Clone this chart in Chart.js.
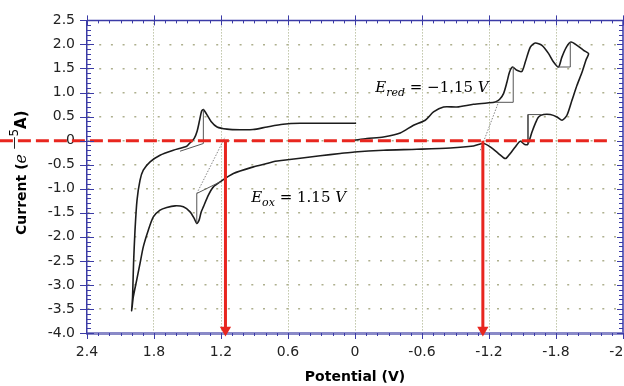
<!DOCTYPE html>
<html>
<head>
<meta charset="utf-8">
<title>Cyclic voltammogram</title>
<script src="https://cdn.jsdelivr.net/npm/chart.js@4.4.1/dist/chart.umd.min.js"></script>
<style>
    html, body { margin: 0; padding: 0; background: #fff; overflow: hidden; }
    #wrap { position: relative; width: 624px; height: 386px; }
</style>
</head>
<body>
<div id="wrap"><canvas id="cvChart"></canvas></div>
<script>
// Axis ticks
const xTicks = [2.4, 1.8, 1.2, 0.6, 0, -0.6, -1.2, -1.8, -2.4];
const xTickLabels = ['2.4', '1.8', '1.2', '0.6', '0', '-0.6', '-1.2', '-1.8', '-2.4'];
const yTicks = [2.5, 2.0, 1.5, 1.0, 0.5, 0, -0.5, -1.0, -1.5, -2.0, -2.5, -3.0, -3.5, -4.0];
const yTickLabels = ['2.5', '2.0', '1.5', '1.0', '0.5', '0', '-0.5', '-1.0', '-1.5', '-2.0', '-2.5', '-3.0', '-3.5', '-4.0'];

// CV scan: 0 V -> +2.0 V -> -2.1 V -> 0 V (potential in V, current in e-5 A)
const scanPotential = [
    -0.01, 0.223, 0.491, 0.644, 0.787, 0.913, 1.029, 1.146, 1.235, 1.289, 1.334, 1.358, 1.374, 1.392,
    1.414, 1.441, 1.477, 1.507, 1.627, 1.746, 1.835, 1.896, 1.925, 1.952, 1.97, 1.983, 1.992, 2.0,
    1.985, 1.955, 1.925, 1.896, 1.851, 1.806, 1.746, 1.686, 1.611, 1.537, 1.477, 1.441, 1.417, 1.396,
    1.378, 1.358, 1.313, 1.268, 1.208, 1.089, 0.91, 0.79, 0.715, 0.641, 0.491, 0.312, 0.133, 0.005,
    -0.255, -0.554, -0.853, -1.061, -1.151, -1.211, -1.285, -1.33, -1.354, -1.39, -1.435, -1.48, -1.516,
    -1.547, -1.585, -1.614, -1.644, -1.689, -1.749, -1.809, -1.854, -1.898, -1.943, -1.988, -2.033,
    -2.071, -2.092,
    -2.047, -1.988, -1.934, -1.892, -1.852, -1.823, -1.778, -1.734, -1.674, -1.614, -1.57, -1.525,
    -1.495, -1.45, -1.411, -1.384, -1.361, -1.33, -1.294, -1.256, -1.182, -1.061, -0.913, -0.793,
    -0.703, -0.629, -0.524, -0.405, -0.255, -0.106, 0.005
];
const scanCurrent = [
    0.36, 0.36, 0.36, 0.34, 0.285, 0.23, 0.226, 0.24, 0.285, 0.40, 0.57, 0.646, 0.61, 0.42,
    0.195, 0.04, -0.044, -0.116, -0.2, -0.303, -0.442, -0.615, -0.822, -1.238, -1.861, -2.546, -3.252, -3.537,
    -3.246, -2.899, -2.552, -2.208, -1.861, -1.585, -1.445, -1.389, -1.356, -1.377, -1.481, -1.612, -1.722, -1.653,
    -1.487, -1.377, -1.134, -0.962, -0.858, -0.683, -0.546, -0.476, -0.428, -0.407, -0.366, -0.314, -0.268, -0.235,
    -0.2, -0.179, -0.152, -0.11, -0.06, -0.131, -0.268, -0.355, -0.366, -0.268, -0.131, -0.012, -0.075,
    -0.075, 0.181, 0.355, 0.492, 0.542, 0.542, 0.492, 0.424, 0.528, 0.839, 1.151, 1.421,
    1.69, 1.809,
    1.877, 1.981, 2.05, 1.94, 1.732, 1.531, 1.634, 1.809, 1.981, 2.029, 1.946, 1.634,
    1.441, 1.462, 1.531, 1.427, 1.219, 0.978, 0.854, 0.804, 0.783, 0.756, 0.7, 0.7,
    0.596, 0.424, 0.32, 0.16, 0.077, 0.044, 0.008
];

// Peak height construction lines
const baselinePotential = [[1.567, 1.358, 1.358], [1.417, 1.417, 1.208], [-1.256, -1.417, -1.417], [-1.812, -1.928, -1.928], [-1.674, -1.549, -1.549]];
const baselineCurrent = [[-0.22, -0.06, 0.646], [-1.722, -1.099, -0.858], [0.797, 0.797, 1.531], [1.531, 1.531, 2.05], [0.542, 0.542, -0.06]];

// Tangents used for the onset potentials
const tangentPotential = [[1.417, 1.163], [-1.122, -1.286]];
const tangentCurrent = [[-1.099, 0.077], [-0.2, 0.804]];

// Onset markers (red arrows) and the zero current line
const onsetPotential = [1.16, -1.145];
const arrowCurrent = [0, -3.94];
const zeroLinePotential = [3.18, -2.295];

document.addEventListener('DOMContentLoaded', function() {
    createCvChart();
});

function labelFor(values, labels, v) {
    const i = values.findIndex(t => Math.abs(t - v) < 1e-6);
    return i >= 0 ? labels[i] : '';
}

function toPoints(xs, ys) {
    return xs.map((x, i) => ({ x: x, y: ys[i] }));
}

function strokeLine(ctx, x1, y1, x2, y2) {
    ctx.beginPath();
    ctx.moveTo(x1, y1);
    ctx.lineTo(x2, y2);
    ctx.stroke();
}

function partsWidth(ctx, parts) {
    return parts.reduce((w, p) => {
        ctx.font = p[1];
        return w + ctx.measureText(p[0]).width;
    }, 0);
}

function drawParts(ctx, parts, x, y) {
    let cx = x;
    parts.forEach(p => {
        ctx.font = p[1];
        ctx.fillText(p[0], cx, y + p[2]);
        cx += ctx.measureText(p[0]).width;
    });
}

const serif = 'DejaVu Serif';
const oxLabel = [['E', 'italic 15px ' + serif, 0], ['ox', 'italic 11px ' + serif, 4], [' = 1.15 ', '15px ' + serif, 0], ['V', 'italic 15px ' + serif, 0]];
const redLabel = [['E', 'italic 15px ' + serif, 0], ['red', 'italic 11px ' + serif, 4], [' = \u22121.15 ', '15px ' + serif, 0], ['V', 'italic 15px ' + serif, 0]];
const yTitle = [
    ['Current (', 'bold 14px DejaVu Sans', 0],
    ['e', 'italic 16px ' + serif, 0],
    [' ', '14px DejaVu Sans', 0],
    ['\u2014', '13px DejaVu Sans', -8],
    ['5', '12px DejaVu Sans', -8],
    ['A)', 'bold 15px DejaVu Sans', 0]
];

const axisDecor = {
    id: 'axisDecor',
    afterDraw(chart) {
        const { ctx, chartArea: a, scales: { x, y } } = chart;
        ctx.save();

        // top and right frame
        ctx.strokeStyle = '#3b3ba6';
        ctx.lineWidth = 1.5;
        strokeLine(ctx, a.left, a.top, a.right, a.top);
        ctx.strokeStyle = '#6a6ac0';
        ctx.lineWidth = 2;
        strokeLine(ctx, a.right, a.top, a.right, a.bottom);

        // major / minor tick marks
        ctx.strokeStyle = '#3b3ba6';
        ctx.lineWidth = 1;
        for (let i = 0; i <= 48; i++) {
            const px = Math.round(x.getPixelForValue(-2.4 + i * 0.1)) + 0.5;
            const major = i % 6 === 0;
            strokeLine(ctx, px, a.bottom, px, a.bottom + (major ? 6 : 3));
            strokeLine(ctx, px, a.top - (major ? 5 : 0), px, a.top + (major ? 5 : 3));
        }
        for (let i = 0; i <= 65; i++) {
            const py = Math.round(y.getPixelForValue(-4 + i * 0.1)) + 0.5;
            const major = i % 5 === 0;
            strokeLine(ctx, a.left - (major ? 7 : 0), py, a.left + (major ? 7 : 4), py);
            strokeLine(ctx, a.right - (major ? 6 : 4), py, a.right, py);
        }

        // annotations
        ctx.fillStyle = '#000';
        ctx.textAlign = 'left';
        ctx.textBaseline = 'alphabetic';
        drawParts(ctx, oxLabel, x.getPixelForValue(0.93), y.getPixelForValue(-1.28));
        drawParts(ctx, redLabel, x.getPixelForValue(-0.181), y.getPixelForValue(1.005));

        // y axis title with superscript
        ctx.translate(26, (a.top + a.bottom) / 2 - 4);
        ctx.rotate(-Math.PI / 2);
        drawParts(ctx, yTitle, -partsWidth(ctx, yTitle) / 2, 0);
        ctx.restore();
    }
};

function createCvChart() {
    const wrap = document.getElementById('wrap');
    const ctx = document.getElementById('cvChart').getContext('2d');
    const red = '#e8261f';

    const datasets = [
        {
            data: toPoints(zeroLinePotential, [0, 0]),
            borderColor: red, borderWidth: 3, borderDash: [13, 5],
            clip: false, order: 0
        }
    ];
    onsetPotential.forEach(p => {
        datasets.push({
            data: toPoints([p, p], arrowCurrent),
            borderColor: red, backgroundColor: red, borderWidth: 3,
            pointRadius: [0, 3.5], pointStyle: 'triangle', rotation: 180,
            clip: false, order: 0
        });
    });
    datasets.push({
        data: toPoints(scanPotential, scanCurrent),
        borderColor: '#1c1c1c', borderWidth: 1.6, tension: 0.25, order: 2
    });
    baselinePotential.forEach((xs, i) => {
        datasets.push({
            data: toPoints(xs, baselineCurrent[i]),
            borderColor: '#555', borderWidth: 1, order: 1
        });
    });
    tangentPotential.forEach((xs, i) => {
        datasets.push({
            data: toPoints(xs, tangentCurrent[i]),
            borderColor: '#666', borderWidth: 0.8, borderDash: [1.5, 1.5], order: 1
        });
    });
    datasets.forEach(d => {
        d.showLine = true;
        if (d.pointRadius === undefined) d.pointRadius = 0;
    });

    const chart = new Chart(ctx, {
        type: 'scatter',
        data: { datasets: datasets },
        options: {
            responsive: true,
            maintainAspectRatio: false,
            animation: false,
            layout: { padding: { top: 20, right: 1, left: 0, bottom: 0 } },
            plugins: {
                legend: { display: false },
                tooltip: { enabled: false }
            },
            scales: {
                x: {
                    type: 'linear',
                    reverse: true,
                    min: -2.4,
                    max: 2.4,
                    afterBuildTicks: s => { s.ticks = xTicks.map(v => ({ value: v })); },
                    afterFit: s => { s.height = 53; s.paddingLeft = 0; s.paddingRight = 0; },
                    ticks: {
                        callback: v => labelFor(xTicks, xTickLabels, v),
                        font: { family: 'DejaVu Sans', size: 14 },
                        color: '#222',
                        padding: 11,
                        maxRotation: 0,
                        autoSkip: false
                    },
                    grid: {
                        color: c => (c.tick && Math.abs(Math.abs(c.tick.value) - 2.4) < 1e-6) ? 'rgba(0,0,0,0)' : '#9ea77c',
                        lineWidth: 1,
                        drawTicks: false
                    },
                    border: { color: '#8a8ac8', width: 3, dash: [1, 2] },
                    title: {
                        display: true,
                        text: 'Potential (V)',
                        font: { family: 'DejaVu Sans', size: 14, weight: 'bold' },
                        color: '#000',
                        padding: 0
                    }
                },
                y: {
                    type: 'linear',
                    min: -4.0,
                    max: 2.5,
                    afterBuildTicks: s => { s.ticks = yTicks.map(v => ({ value: v })); },
                    afterFit: s => { s.width = 87; },
                    ticks: {
                        callback: v => labelFor(yTicks, yTickLabels, v),
                        font: { family: 'DejaVu Sans', size: 14 },
                        color: '#222',
                        padding: 12,
                        autoSkip: false
                    },
                    grid: {
                        color: c => (c.tick && (c.tick.value === 2.5 || c.tick.value === -4)) ? 'rgba(0,0,0,0)' : '#aeb08e',
                        lineWidth: 1.5,
                        drawTicks: false
                    },
                    border: { color: '#3b3ba6', width: 1.5, dash: [2, 9.7] },
                    title: { display: false }
                }
            }
        },
        plugins: [axisDecor]
    });

    // the right frame sits on the window edge; the last tick label runs off the page
    const extra = 623 - chart.chartArea.right;
    if (Math.abs(extra) > 0.5) {
        wrap.style.width = (624 + extra) + 'px';
        chart.resize();
    }
}
</script>
</body>
</html>
